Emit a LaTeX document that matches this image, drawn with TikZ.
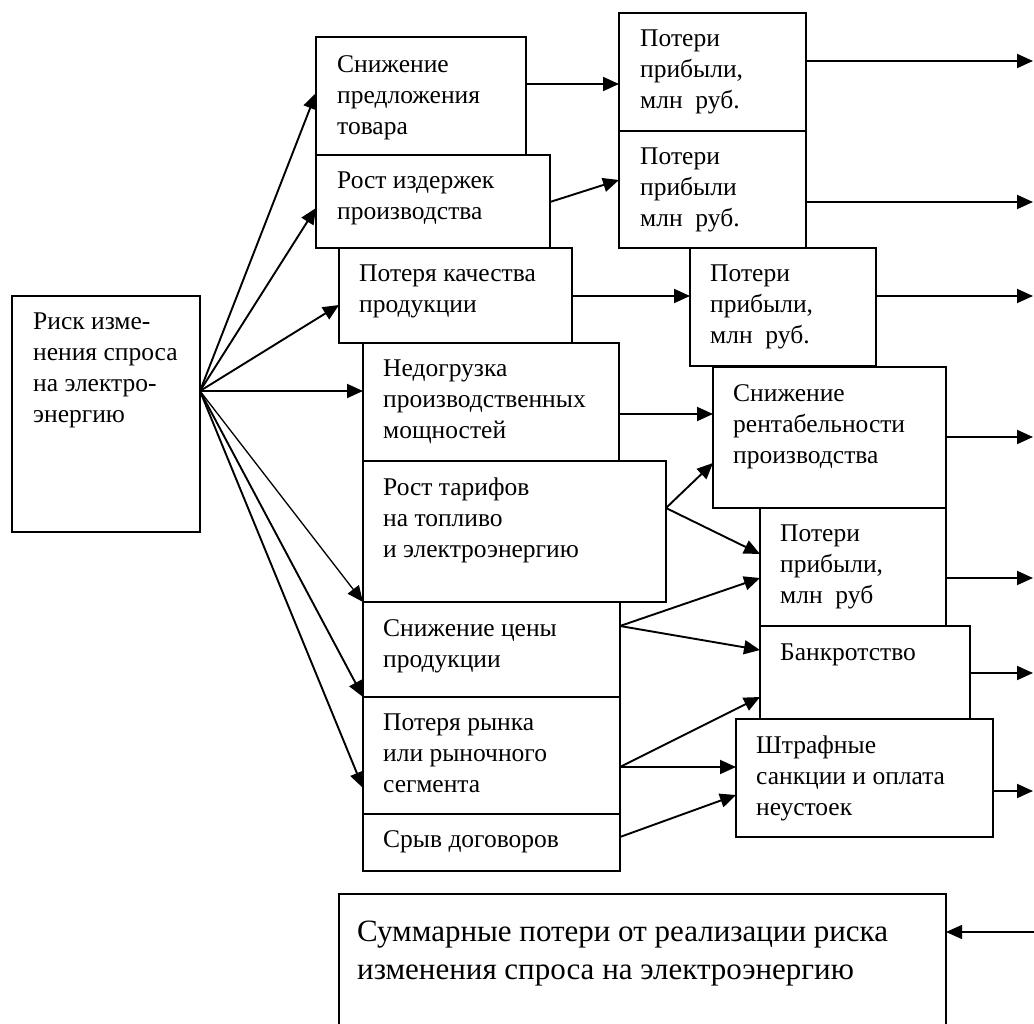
\documentclass[tikz,border=0pt]{standalone}
\usepackage{fontspec}
\setmainfont{Liberation Serif}
\usetikzlibrary{arrows.meta,calc}
\tikzset{
  bx/.style={draw, line width=1.9pt, inner sep=0pt, outer sep=0pt, anchor=north west},
  tx/.style={anchor=north west, inner sep=0pt, align=left, font=\fontsize{25.5}{31}\selectfont},
  bigtx/.style={anchor=north west, inner sep=0pt, align=left, font=\fontsize{31}{38}\selectfont},
  ar/.style={line width=1.9pt, -{Triangle[length=16pt,width=14pt]}},
  thinar/.style={line width=1.3pt, -{Triangle[length=16pt,width=14pt]}},
}
\begin{document}
\begin{tikzpicture}[x=1pt,y=-1pt]
\useasboundingbox (0,0) rectangle (1034,1024);
\clip (0,0) rectangle (1034,1024);
% boxes
\node[bx, minimum width=188pt, minimum height=236pt] (R) at (12,296) {};
\node[bx, minimum width=210pt, minimum height=118pt] (A) at (316,37) {};
\node[bx, minimum width=234pt, minimum height=93pt] (B) at (316,155) {};
\node[bx, minimum width=233pt, minimum height=95pt] (C) at (339,248) {};
\node[bx, minimum width=256pt, minimum height=118pt] (D) at (363,343) {};
\node[bx, minimum width=303pt, minimum height=141pt] (E) at (363,461) {};
\node[bx, minimum width=257pt, minimum height=95pt] (F) at (363,602) {};
\node[bx, minimum width=257pt, minimum height=117pt] (G) at (363,697) {};
\node[bx, minimum width=257pt, minimum height=57pt] (H) at (363,814) {};
\node[bx, minimum width=187pt, minimum height=118pt] (P1) at (619,13) {};
\node[bx, minimum width=187pt, minimum height=117pt] (P2) at (619,131) {};
\node[bx, minimum width=186pt, minimum height=118pt] (P3) at (690,248) {};
\node[bx, minimum width=233pt, minimum height=141pt] (S) at (713,367) {};
\node[bx, minimum width=186pt, minimum height=118pt] (P4) at (760,508) {};
\node[bx, minimum width=210pt, minimum height=93pt] (K) at (760,626) {};
\node[bx, minimum width=257pt, minimum height=118pt] (W) at (736,719) {};
\node[bx, minimum width=607pt, minimum height=200pt] (T) at (339,894) {};
% texts
\node[tx] (tR) at ($(R.north west)+(21,17)$) {Риск изме-\\нения спроса\\на электро-\\энергию};
\node[tx] (tA) at ($(A.north west)+(21,18)$) {Снижение\\предложения\\товара};
\node[tx] (tB) at ($(B.north west)+(21,17)$) {Рост издержек\\производства};
\node[tx] (tC) at ($(C.north west)+(20,17)$) {Потеря качества\\продукции};
\node[tx] (tD) at ($(D.north west)+(20,17)$) {Недогрузка\\производственных\\мощностей};
\node[tx] (tE) at ($(E.north west)+(20,17)$) {Рост тарифов\\на топливо\\и электроэнергию};
\node[tx] (tF) at ($(F.north west)+(20,17)$) {Снижение цены\\продукции};
\node[tx] (tG) at ($(G.north west)+(20,17)$) {Потеря рынка\\или рыночного\\сегмента};
\node[tx] (tH) at ($(H.north west)+(20,16)$) {Срыв договоров};
\node[tx] (tP1) at ($(P1.north west)+(21,17)$) {Потери\\прибыли,\\млн\ \ руб.};
\node[tx] (tP2) at ($(P2.north west)+(21,17)$) {Потери\\прибыли\\млн\ \ руб.};
\node[tx] (tP3) at ($(P3.north west)+(20,17)$) {Потери\\прибыли,\\млн\ \ руб.};
\node[tx] (tS) at ($(S.north west)+(20,17)$) {Снижение\\рентабельности\\производства};
\node[tx] (tP4) at ($(P4.north west)+(20,17)$) {Потери\\прибыли,\\млн\ \ руб};
\node[tx] (tK) at ($(K.north west)+(20,18)$) {Банкротство};
\node[tx] (tW) at ($(W.north west)+(20,17)$) {Штрафные\\санкции и оплата\\неустоек};
\node[bigtx] (tT) at ($(T.north west)+(18,27)$) {Суммарные потери от реализации риска\\изменения спроса на электроэнергию};
% fan from R
\coordinate (fan) at ($(R.north east)+(0,95)$);
\draw[ar] (fan) -- (A.west |- 0,93);
\draw[ar] (fan) -- (B.west |- 0,208);
\draw[ar] (fan) -- (C.west |- 0,305);
\draw[ar] (fan) -- (D.west |- fan);
\draw[thinar] (fan) -- (E.south west);
\draw[ar] (fan) -- (F.south west);
\draw[ar] (fan) -- (G.west |- 0,788);
% middle connectors
\draw[ar] (A.east |- 0,84) -- (P1.west |- 0,84);
\draw[ar] (B.east |- 0,202) -- (P2.west |- 0,180);
\draw[ar] (C.east |- 0,296) -- (P3.west |- 0,296);
\draw[ar] (D.east |- 0,414) -- (S.west |- 0,414);
\draw[ar] (E.east |- 0,508) -- (S.west |- 0,463);
\draw[ar] (E.east |- 0,508) -- (P4.west |- 0,554);
\draw[ar] (F.east |- 0,626) -- (P4.west |- 0,578);
\draw[ar] (F.east |- 0,626) -- (K.west |- 0,650);
\draw[ar] (G.east |- 0,767) -- (K.west |- 0,697);
\draw[ar] (G.east |- 0,767) -- (W.west |- 0,767);
\draw[ar] (H.east |- 0,837) -- (W.west |- 0,795);
% outputs to the right
\coordinate (o1) at (1033,61);
\coordinate (o2) at (1033,202);
\coordinate (o3) at (1033,296);
\coordinate (o4) at (1033,437);
\coordinate (o5) at (1033,578);
\coordinate (o6) at (1033,673);
\coordinate (o7) at (1033,791);
\coordinate (inT) at (1034,932);
\draw[ar] (P1.east |- o1) -- (o1);
\draw[ar] (P2.east |- o2) -- (o2);
\draw[ar] (P3.east |- o3) -- (o3);
\draw[ar] (S.east |- o4) -- (o4);
\draw[ar] (P4.east |- o5) -- (o5);
\draw[ar] (K.east |- o6) -- (o6);
\draw[ar] (W.east |- o7) -- (o7);
\draw[thinar] (inT) -- (T.east |- inT);
\end{tikzpicture}
\end{document}
